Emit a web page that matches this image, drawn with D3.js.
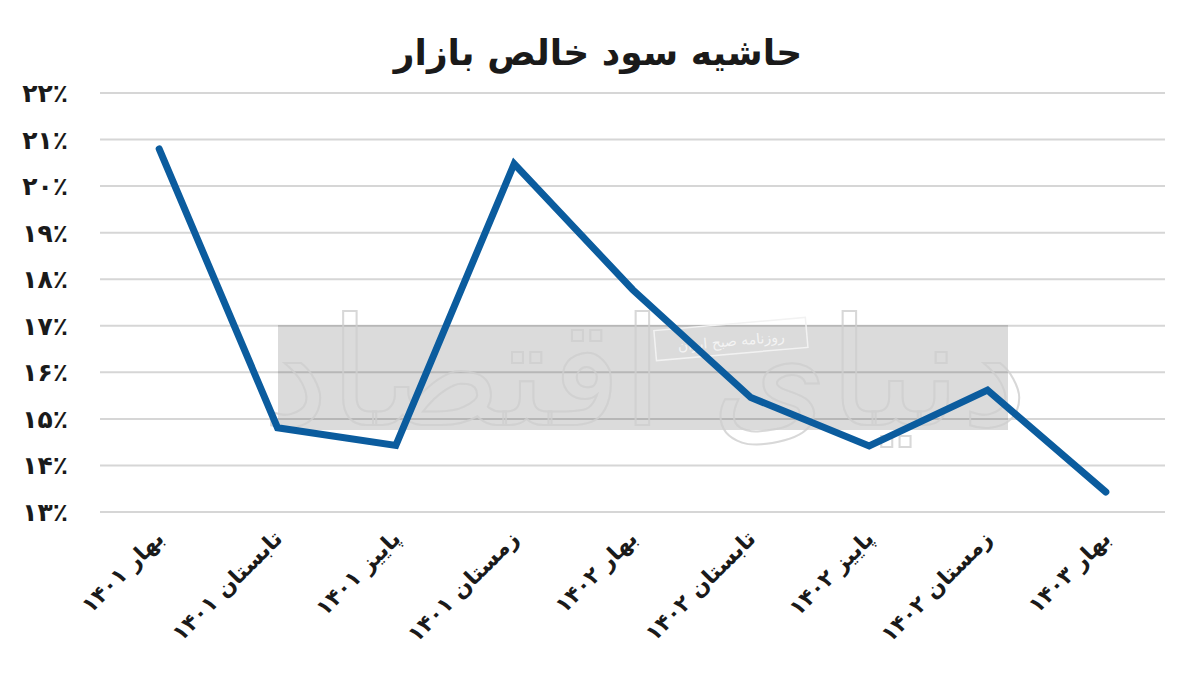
<!DOCTYPE html>
<html><head><meta charset="utf-8">
<script src="https://cdn.jsdelivr.net/npm/d3@7"></script>
<style>
html,body{margin:0;padding:0;background:#fff;}
svg{display:block;}
text{font-family:"DejaVu Sans",sans-serif;font-weight:bold;fill:#1a1a1a;}
</style></head>
<body>
<svg id="chart" width="1200" height="674"></svg>
<script>
const title = "حاشیه سود خالص بازار";
const categories = ["بهار ۱۴۰۱","تابستان ۱۴۰۱","پاییز ۱۴۰۱","زمستان ۱۴۰۱","بهار ۱۴۰۲","تابستان ۱۴۰۲","پاییز ۱۴۰۲","زمستان ۱۴۰۲","بهار ۱۴۰۳"];
const values = [20.8, 14.81, 14.43, 20.48, 17.78, 15.46, 14.42, 15.62, 13.43];
const yTicks = [13,14,15,16,17,18,19,20,21,22];
const yTickLabels = ["۱۳٪","۱۴٪","۱۵٪","۱۶٪","۱۷٪","۱۸٪","۱۹٪","۲۰٪","۲۱٪","۲۲٪"];
const watermark = "دنیای اقتصاد";
const watermarkSub = "روزنامه صبح ایران";

const svg = d3.select("#chart");
const plotLeft = 100, plotRight = 1165, plotTop = 93, plotBottom = 512;

const x = d3.scalePoint().domain(categories).range([plotLeft, plotRight]).padding(0.5);
const y = d3.scaleLinear().domain([13, 22]).range([plotBottom, plotTop]);

// title
svg.append("text").attr("x", 598).attr("y", 65).attr("text-anchor", "middle")
  .attr("font-size", 36).text(title);

// grid lines
svg.append("g").selectAll("line").data(yTicks).join("line")
  .attr("x1", plotLeft).attr("x2", plotRight)
  .attr("y1", d => y(d)).attr("y2", d => y(d))
  .attr("stroke", "#d6d6d6").attr("stroke-width", 2);

// y labels
svg.append("g").selectAll("text").data(yTicks).join("text")
  .attr("x", 68).attr("y", d => y(d) + 9)
  .attr("text-anchor", "end").attr("font-size", 25)
  .text((d, i) => yTickLabels[i]);

// watermark band
const wm = svg.append("g");
wm.append("rect").attr("x", 278).attr("y", 325).attr("width", 730).attr("height", 105)
  .attr("fill", "#000").attr("opacity", 0.14);
wm.append("text").attr("x", 645).attr("y", 425).attr("text-anchor", "middle")
  .attr("font-size", 150).style("font-weight", "normal")
  .attr("stroke", "#cfcfcf").attr("stroke-width", 2).attr("opacity", 0.8)
  .style("fill", "none").text(watermark);
const sub = wm.append("g").attr("transform", "translate(731,340) rotate(-5)");
sub.append("rect").attr("x", -76).attr("y", -16).attr("width", 152).attr("height", 30)
  .attr("fill", "none").attr("stroke", "#f2f2f2").attr("stroke-width", 1.5);
sub.append("text").attr("x", 0).attr("y", 6).attr("text-anchor", "middle")
  .attr("font-size", 14).style("font-weight", "normal").style("fill", "#f4f4f4").text(watermarkSub);

// line
const line = d3.line().x((d, i) => x(categories[i])).y(d => y(d));
svg.append("path").datum(values).attr("d", line)
  .attr("fill", "none").attr("stroke", "#0b5c9e").attr("stroke-width", 7)
  .attr("stroke-linejoin", "miter").attr("stroke-linecap", "round");

// x labels
svg.append("g").selectAll("text").data(categories).join("text")
  .attr("transform", d => `translate(${x(d) + 6},${540}) rotate(-45)`)
  .attr("text-anchor", "end").attr("font-size", 22)
  .text(d => d);
</script>
</body></html>
